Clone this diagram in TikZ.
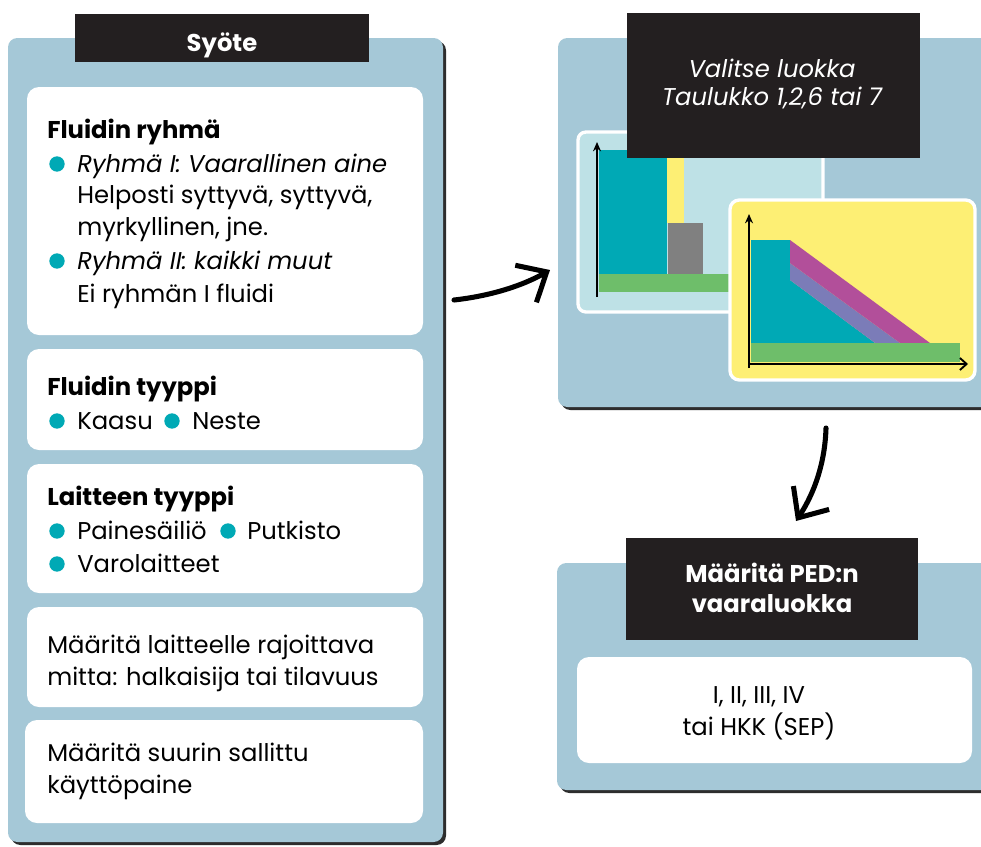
\documentclass[tikz,border=0pt]{standalone}
\usepackage{fontspec}
\setmainfont{Poppins}[Ligatures=NoCommon]
\usetikzlibrary{fit,arrows.meta}
\definecolor{panelblue}{RGB}{165,200,215}
\definecolor{titleblack}{RGB}{35,31,32}
\definecolor{shadowgray}{RGB}{45,45,45}
\definecolor{bulletteal}{RGB}{0,169,181}
\definecolor{chartteal}{RGB}{0,169,181}
\definecolor{chartyellow}{RGB}{253,239,116}
\definecolor{chartgreen}{RGB}{110,190,106}
\definecolor{chartgrey}{RGB}{128,128,128}
\definecolor{chartmagenta}{RGB}{178,79,154}
\definecolor{chartpurple}{RGB}{123,124,184}
\definecolor{lightpanel}{RGB}{190,225,230}
\newcommand\fsz{\fontsize{18.2}{24}\selectfont}
\tikzset{
  box/.style={inner sep=0pt, outer sep=0pt},
  panel/.style={box, fill=panelblue, rounded corners=7pt},
  panelshadow/.style={box, fill=shadowgray, rounded corners=7pt},
  whitebox/.style={box, fill=white, rounded corners=9pt},
  titlebar/.style={box, fill=titleblack},
  txt/.style={anchor=base west, inner sep=0pt, font=\fsz},
  heading/.style={txt, font=\fsz\bfseries},
  titletxt/.style={anchor=base, inner sep=0pt, text=white, font=\fsz},
  dot/.style={circle, fill=bulletteal, minimum size=11.5pt, inner sep=0pt},
  bigarrow/.style={line width=3.8pt, line cap=round, -{Straight Barb[length=18pt,width=32pt,line width=3.8pt]}},
  axis/.style={line width=1.6pt, -{Stealth[length=7pt,width=6pt]}},
}
\begin{document}
\begin{tikzpicture}[x=0.75pt,y=-0.75pt]
\useasboundingbox (0,0) rectangle (981,846);
\clip (0,0) rectangle (981,846);
\fill[white] (0,0) rectangle (981,846);

% ---------- left panel ----------
\node[panelshadow, fit={(11,41) (446,845)}] (lsh) {};
\node[panel, fit={(8,38) (443,842)}] (lpanel) {};
\node[titlebar, fit={(75,14) (369,62)}] (ltitle) {};
\node[titletxt, font=\fsz\bfseries] (ltitletxt) at (222,51) {Syöte};

\node[whitebox, fit={(27,87) (423,335)}] (b1) {};
\node[whitebox, fit={(27,349) (423,450)}] (b2) {};
\node[whitebox, fit={(27,464) (423,593)}] (b3) {};
\node[whitebox, fit={(27,607) (423,707)}] (b4) {};
\node[whitebox, fit={(25,720) (423,823)}] (b5) {};

% box 1
\node[heading] (t11) at (47,138) {Fluidin ryhmä};
\node[dot] (d11) at (57,164) {};
\node[txt] (t12) at (77,172) {\itshape Ryhmä I: Vaarallinen aine};
\node[txt] (t13) at (77,203) {Helposti syttyvä, syttyvä,};
\node[txt] (t14) at (77,235) {myrkyllinen, jne.};
\node[dot] (d12) at (57,261) {};
\node[txt] (t15) at (77,269) {\itshape Ryhmä II: kaikki muut};
\node[txt] (t16) at (77,302) {Ei ryhmän I fluidi};

% box 2
\node[heading] (t21) at (47,395) {Fluidin tyyppi};
\node[dot] (d21) at (57,421) {};
\node[txt] (t22) at (77,429) {Kaasu};
\node[dot] (d22) at (172,421) {};
\node[txt] (t23) at (192,429) {Neste};

% box 3
\node[heading] (t31) at (47,505) {Laitteen tyyppi};
\node[dot] (d31) at (57,531) {};
\node[txt] (t32) at (77,539) {Painesäiliö};
\node[dot] (d32) at (228,531) {};
\node[txt] (t33) at (247,539) {Putkisto};
\node[dot] (d33) at (57,564) {};
\node[txt] (t34) at (77,572) {Varolaitteet};

% box 4
\node[txt] (t41) at (47,653) {Määritä laitteelle rajoittava};
\node[txt] (t42) at (47,685) {mitta: halkaisija tai tilavuus};

% box 5
\node[txt] (t51) at (47,761) {Määritä suurin sallittu};
\node[txt] (t52) at (47,793) {käyttöpaine};

% ---------- right top panel ----------
\node[panelshadow, fit={(561,41) (1000,410)}] (rsh) {};
\node[panel, fit={(558,38) (1000,407)}] (rpanel) {};

% light chart
\node[box, fill=lightpanel, draw=white, line width=2.5pt, rounded corners=6pt, fit={(578,132) (823,312)}] (lchart) {};
\fill[chartteal] (599,150) rectangle (667,274);
\fill[chartyellow] (667,150) rectangle (684,223);
\fill[chartgrey] (668,223) rectangle (703,274);
\fill[chartgreen] (599,274) rectangle (735,292);
\coordinate (lax0) at (597,297);
\coordinate (lax1) at (597,142);
\draw[axis] (lax0) -- (lax1);

% yellow chart
\node[box, fill=chartyellow, draw=white, line width=2.5pt, rounded corners=7pt, fit={(730,200) (975,380)}] (ychart) {};
\fill[chartteal] (751,240) -- (790,240) -- (790,280) -- (875,343) -- (751,343) -- cycle;
\fill[chartpurple] (790,263) -- (900,343) -- (875,343) -- (790,280) -- cycle;
\fill[chartmagenta] (790,240) -- (930,343) -- (900,343) -- (790,263) -- cycle;
\fill[chartgreen] (751,343) rectangle (960,362);
\coordinate (yax0) at (749,368);
\coordinate (yax1) at (749,214);
\coordinate (xax0) at (749,364);
\coordinate (xax1) at (968,364);
\draw[axis] (yax0) -- (yax1);
\draw[line width=1.6pt, -{Straight Barb[length=5pt,width=9pt,line width=1.4pt]}] (xax0) -- (xax1);

\node[titlebar, fit={(627,13) (920,158)}] (rtitle) {};
\node[titletxt, font=\fsz\itshape] (rt1) at (772,77) {Valitse luokka};
\node[titletxt, font=\fsz\itshape] (rt2) at (772,105) {Taulukko 1,2,6 tai 7};

% ---------- bottom right panel ----------
\node[panelshadow, fit={(560,566) (1000,793)}] (bsh) {};
\node[panel, fit={(557,563) (1000,790)}] (bpanel) {};
\node[titlebar, fit={(626,538) (918,640)}] (btitle) {};
\node[titletxt, font=\fsz\bfseries] (bt1) at (772,582) {Määritä PED:n};
\node[titletxt, font=\fsz\bfseries] (bt2) at (772,612) {vaaraluokka};
\node[whitebox, fit={(577,657) (972,763)}] (bw) {};
\node[titletxt, text=black] (bw1) at (759,703) {I, II, III, IV};
\node[titletxt, text=black] (bw2) at (759,735) {tai HKK (SEP)};

% ---------- arrows ----------
\coordinate (a1s) at (454,300);
\coordinate (a1e) at (550,270);
\draw[bigarrow] (a1s) .. controls (490,296) and (522,286) .. (a1e);
\coordinate (a2s) at (826,428);
\coordinate (a2e) at (796,521);
\draw[bigarrow] (a2s) .. controls (825,462) and (815,492) .. (a2e);
\end{tikzpicture}
\end{document}
